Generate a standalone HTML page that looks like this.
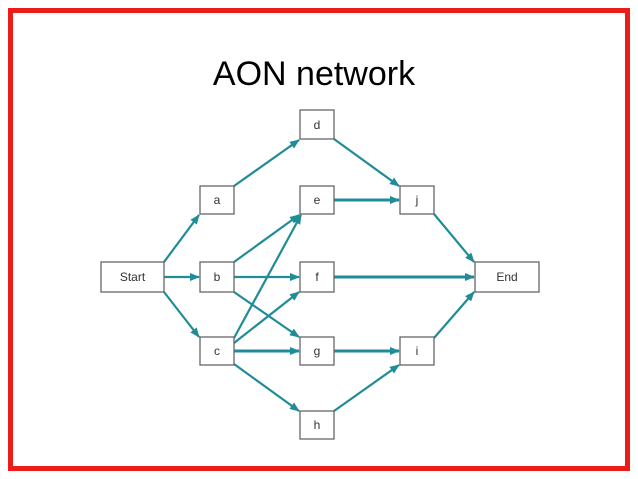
<!DOCTYPE html>
<html><head><style>
html,body{margin:0;padding:0;background:#fff;}
svg{display:block;}
</style></head><body>
<svg width="638" height="479" viewBox="0 0 638 479" xmlns="http://www.w3.org/2000/svg">
<defs>
<marker id="ar" markerWidth="10" markerHeight="8" refX="9" refY="4" orient="auto" markerUnits="userSpaceOnUse">
<path d="M0,0 L10,4 L0,8 z" fill="#1f8c97"/>
</marker>
</defs>
<rect x="10.5" y="10.5" width="617" height="458" fill="none" stroke="#ee1b1b" stroke-width="5"/>
<text x="314" y="85" font-family="Liberation Sans, sans-serif" font-size="34" text-anchor="middle" fill="#000">AON network</text>
<g stroke="#1f8c97" stroke-width="2.2" fill="none" marker-end="url(#ar)">
<line x1="164" y1="262" x2="199" y2="215"/>
<line x1="164" y1="277" x2="199" y2="277"/>
<line x1="164" y1="292" x2="199" y2="337"/>
<line x1="234" y1="186" x2="299" y2="140"/>
<line x1="334" y1="139" x2="399" y2="186"/>
<line x1="334" y1="200" x2="399" y2="200" stroke-width="3"/>
<line x1="234" y1="262" x2="299" y2="215"/>
<line x1="234" y1="277" x2="299" y2="277"/>
<line x1="234" y1="292" x2="299" y2="337"/>
<line x1="234" y1="338" x2="301" y2="215"/>
<line x1="234" y1="343" x2="299" y2="292"/>
<line x1="234" y1="351" x2="299" y2="351" stroke-width="3"/>
<line x1="234" y1="364" x2="299" y2="411"/>
<line x1="334" y1="277" x2="474" y2="277" stroke-width="3"/>
<line x1="434" y1="214" x2="474" y2="262"/>
<line x1="334" y1="351" x2="399" y2="351" stroke-width="3"/>
<line x1="334" y1="411" x2="399" y2="365"/>
<line x1="434" y1="338" x2="474" y2="292"/>
</g>
<g fill="#fff" stroke="#666" stroke-width="1.3">
<rect x="101" y="262" width="63" height="30"/>
<rect x="200" y="186" width="34" height="28"/>
<rect x="200" y="262" width="34" height="30"/>
<rect x="200" y="337" width="34" height="28"/>
<rect x="300" y="110" width="34" height="29"/>
<rect x="300" y="186" width="34" height="28"/>
<rect x="300" y="262" width="34" height="30"/>
<rect x="300" y="337" width="34" height="28"/>
<rect x="300" y="411" width="34" height="28"/>
<rect x="400" y="186" width="34" height="28"/>
<rect x="400" y="337" width="34" height="28"/>
<rect x="475" y="262" width="64" height="30"/>
</g>
<g font-family="Liberation Sans, sans-serif" font-size="12" fill="#333" text-anchor="middle">
<text x="132.5" y="281">Start</text>
<text x="217" y="204">a</text>
<text x="217" y="281">b</text>
<text x="217" y="355">c</text>
<text x="317" y="129">d</text>
<text x="317" y="204">e</text>
<text x="317" y="281">f</text>
<text x="317" y="355">g</text>
<text x="317" y="429">h</text>
<text x="417" y="204">j</text>
<text x="417" y="355">i</text>
<text x="507" y="281">End</text>
</g>
</svg>
</body></html>
